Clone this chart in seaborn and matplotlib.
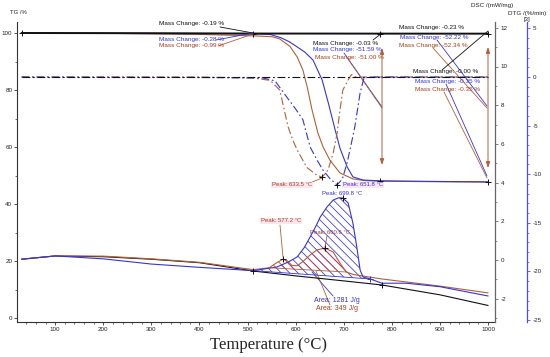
import matplotlib
matplotlib.use("Agg")
import matplotlib.pyplot as plt
import seaborn as sns
from matplotlib.ticker import MultipleLocator

# -------------------------------
# Data
# -------------------------------
step_temps = [30, 512, 776, 1000]

# TG (%)
tg_black_t = [30, 200, 400, 512, 650, 776, 900, 1000]
tg_black = [100, 99.95, 99.87, 99.81, 99.80, 99.78, 99.77, 99.77]

tg_blue_t = [30, 300, 512, 547, 570, 588, 604, 619, 636, 655, 669, 682, 692, 707, 719, 740, 776, 900, 1000]
tg_blue = [100, 99.9, 99.72, 99.5, 98.3, 96.8, 95.0, 93.3, 90.5, 83.5, 74.7, 66.0, 59.6, 53.0, 49.5, 48.4, 48.13, 47.9, 47.78]

tg_brown_t = [30, 200, 400, 512, 551, 567, 588, 603, 615, 624, 634, 646, 657, 671, 692, 719, 744, 776, 900, 1000]
tg_brown = [100, 99.9, 99.5, 99.0, 98.7, 97.9, 95.3, 91.6, 87.0, 81.0, 73.0, 65.0, 60.0, 55.4, 50.9, 48.8, 48.2, 48.0, 47.8, 47.66]

# DTG (%/min)
dtg_black_t = [30, 500, 1000]
dtg_black = [0, 0, 0]

dtg_blue_t = [30, 400, 532, 557, 582, 600, 615, 630, 645, 657, 672, 686, 697, 707, 715, 723, 734, 742, 760, 1000]
dtg_blue = [0, -0.05, -0.1, -0.4, -2.1, -3.3, -4.4, -7.2, -8.6, -9.6, -10.5, -11.1, -10.5, -8.8, -7.0, -5.1, -1.6, -0.1, 0, 0]

dtg_brown_t = [30, 400, 511, 547, 567, 584, 594, 603, 623, 644, 655, 667, 678, 686, 692, 698, 709, 716, 725, 1000]
dtg_brown = [0, 0, -0.1, -0.35, -1.35, -5.1, -6.5, -7.5, -9.3, -10.1, -10.3, -9.6, -7.8, -5.8, -3.4, -1.35, -0.3, 0.25, 0, 0]

# DSC (mW/mg)
dsc_black_t = [30, 100, 200, 300, 400, 512, 600, 700, 779, 900, 1000]
dsc_black = [0.04, 0.21, 0.17, 0.04, -0.14, -0.57, -0.82, -1.08, -1.29, -1.8, -2.35]

dsc_blue_t = [30, 100, 200, 300, 400, 512, 561, 585, 603, 618, 630, 641, 651, 665, 678, 690, 698,
              709, 719, 727, 734, 740, 755, 779, 830, 900, 1000]
dsc_blue = [0.04, 0.21, 0.06, -0.21, -0.38, -0.55, -0.36, -0.1, 0.16, 0.65, 1.19, 1.7, 2.22, 2.74, 3.1, 3.22, 3.2,
            2.95, 1.9, 0.67, -0.52, -0.88, -0.98, -1.2, -1.2, -1.38, -1.86]

dsc_brown_t = [30, 100, 200, 300, 400, 512, 545, 560, 574, 583, 592, 603, 615, 630, 644, 661, 678,
               692, 705, 720, 779, 900, 1000]
dsc_brown = [0.04, 0.21, 0.2, 0.06, -0.12, -0.5, -0.4, -0.15, 0.05, -0.05, -0.28, -0.3, -0.08, 0.26, 0.52, 0.62, 0.41,
             -0.16, -0.62, -0.75, -0.98, -1.35, -1.7]

# integration limits of the DSC peaks
blue_area_lim = (512, 755)
brown_area_lim = (545, 705)

# peak markers
dtg_peak_t = [655, 686]
dtg_peak_v = [-10.3, -11.1]
dsc_peak_brown_t = [574, 661]
dsc_peak_brown_v = [0.05, 0.62]
dsc_peak_blue_t = [698]
dsc_peak_blue_v = [3.2]

BLACK = "#111111"
BLUE = "#3434d8"
BROWN = "#b0603a"
RED = "#d83a3a"
TXT_BROWN = "#a0401c"

# -------------------------------
# Style
# -------------------------------
sns.set_style("ticks")
plt.rcParams["font.family"] = ["Liberation Sans", "DejaVu Sans"]
plt.rcParams["hatch.linewidth"] = 0.55
plt.rcParams["axes.unicode_minus"] = False

W, H = 550, 357
fig = plt.figure(figsize=(W / 100, H / 100), dpi=100)


# reference pixel -> TG axes data
def px(x, y):
    return 600 + (x - 295.7) / 0.481, (318 - y) / 2.85


x0, y_top = px(17, 22)
x1, y_bot = px(495, 322)

ax = fig.add_axes([17 / W, 1 - 322 / H, (495 - 17) / W, 300 / H])
ax_dsc = ax.twinx()
ax_dtg = ax.twinx()


def line(a, t, v, color, ls="-", lw=0.8):
    sns.lineplot(x=t, y=v, ax=a, color=color, linestyle=ls, linewidth=lw,
                 sort=False, estimator=None)


# TG
line(ax, tg_brown_t, tg_brown, BROWN)
line(ax, tg_blue_t, tg_blue, BLUE)
line(ax, tg_black_t, tg_black, BLACK, lw=1.4)

# DTG
dashdot = (0, (7, 2.5, 1.5, 2.5))
line(ax_dtg, dtg_brown_t, dtg_brown, BROWN, ls=dashdot)
line(ax_dtg, dtg_blue_t, dtg_blue, BLUE, ls=dashdot)
line(ax_dtg, dtg_black_t, dtg_black, BLACK, ls=dashdot)

# DSC
line(ax_dsc, dsc_black_t, dsc_black, BLACK)
line(ax_dsc, dsc_brown_t, dsc_brown, BROWN)
line(ax_dsc, dsc_blue_t, dsc_blue, BLUE)

# hatched peak areas (closed along the straight integration baseline)
bt = [t for t in dsc_blue_t if blue_area_lim[0] <= t <= blue_area_lim[1]]
bv = [v for t, v in zip(dsc_blue_t, dsc_blue) if blue_area_lim[0] <= t <= blue_area_lim[1]]
ax_dsc.fill(bt, bv, facecolor="none", edgecolor=BLUE, hatch="\\\\\\\\", linewidth=0)
ax_dsc.plot([bt[0], bt[-1]], [bv[0], bv[-1]], color=BLUE, lw=0.6)

rt = [t for t in dsc_brown_t if brown_area_lim[0] <= t <= brown_area_lim[1]]
rv = [v for t, v in zip(dsc_brown_t, dsc_brown) if brown_area_lim[0] <= t <= brown_area_lim[1]]
ax_dsc.fill(rt, rv, facecolor="none", edgecolor=RED, hatch="\\\\\\\\", linewidth=0)
ax_dsc.plot([rt[0], rt[-1]], [rv[0], rv[-1]], color=BROWN, lw=0.6)

# markers
mk = dict(marker="+", ls="none", ms=5, mew=0.7)
ax.plot(step_temps, [tg_black[tg_black_t.index(t)] for t in [30, 512, 776, 1000]], color=BLACK, **mk)
ax.plot(step_temps[2:], [tg_blue[tg_blue_t.index(t)] for t in step_temps[2:]], color=BLACK, **mk)
ax_dtg.plot(dtg_peak_t, dtg_peak_v, color=BLACK, **mk)
ax_dsc.plot(dsc_peak_brown_t, dsc_peak_brown_v, color=BLACK, **mk)
ax_dsc.plot(dsc_peak_blue_t, dsc_peak_blue_v, color=BLACK, **mk)
ax_dsc.plot([512, 779], [dsc_black[5], dsc_black[8]], color=BLACK, **mk)
ax_dsc.plot([755], [dsc_blue[dsc_blue_t.index(755)]], color=BLUE, **mk)

# -------------------------------
# Axes
# -------------------------------
ax.set_xlim(x0, x1)
ax.set_ylim(y_bot, y_top)
ax_dsc.set_ylim((260 - 322) / 19.35, (260 - 22) / 19.35)
ax_dtg.set_ylim(-(322 - 77) / 9.72, -(22 - 77) / 9.72)

for a in (ax, ax_dsc, ax_dtg):
    a.set_xlabel("")
    a.set_ylabel("")
    a.spines["top"].set_visible(False)
for a in (ax_dsc, ax_dtg):
    a.spines["left"].set_visible(False)
    a.spines["bottom"].set_visible(False)
ax.spines["right"].set_visible(False)
ax_dtg.spines["right"].set_position(("outward", 23))

for s in ("left", "bottom"):
    ax.spines[s].set_linewidth(0.8)
    ax.spines[s].set_color("#333333")
ax_dsc.spines["right"].set_color("#666666")
ax_dsc.spines["right"].set_linewidth(0.9)
ax_dtg.spines["right"].set_color("#4a4aff")
ax_dtg.spines["right"].set_linewidth(0.9)

ax.xaxis.set_minor_locator(MultipleLocator(20))
ax.set_xticks(range(100, 1001, 100))
ax.yaxis.set_minor_locator(MultipleLocator(10))
ax.set_yticks(range(0, 101, 20))
ax_dsc.set_yticks(range(-2, 13, 2))
ax_dsc.yaxis.set_minor_locator(MultipleLocator(1))
ax_dtg.set_yticks(range(-25, 6, 5))
ax_dtg.yaxis.set_minor_locator(MultipleLocator(1))

ax.tick_params(axis="both", which="major", length=2.2, width=0.6, labelsize=4.5, pad=1.2,
               color="#333333", labelcolor="#222222")
ax.tick_params(axis="both", which="minor", length=1.1, width=0.5, color="#333333")
ax.tick_params(axis="y", left=True, right=False)
ax_dsc.tick_params(axis="y", which="major", length=2.2, width=0.6, labelsize=4.5, pad=2,
                   color="#666666", labelcolor="#222222")
ax_dsc.tick_params(axis="y", which="minor", length=1.1, width=0.5, color="#666666")
ax_dtg.tick_params(axis="y", which="major", length=2.2, width=0.6, labelsize=4.5, pad=2,
                   color="#4a4aff", labelcolor="#222222")
ax_dtg.tick_params(axis="y", which="minor", length=1.3, width=0.5, color="#4a4aff")

# -------------------------------
# Annotations
# -------------------------------
FS = 4.6
mass_labels = [
    ("Mass Change: -0.19 %", 159, 24, BLACK),
    ("Mass Change: -0.28 %", 159, 39, BLUE),
    ("Mass Change: -0.99 %", 159, 46, TXT_BROWN),
    ("Mass Change: -0.03 %", 313, 43, BLACK),
    ("Mass Change: -51.59 %", 313, 50, BLUE),
    ("Mass Change: -51.00 %", 315, 57, TXT_BROWN),
    ("Mass Change: -0.23 %", 399, 28, BLACK),
    ("Mass Change: -52.22 %", 400, 38, BLUE),
    ("Mass Change: -52.34 %", 399, 45, TXT_BROWN),
    ("Mass Change: -0.00 %", 413, 72, BLACK),
    ("Mass Change: -0.35 %", 415, 81, BLUE),
    ("Mass Change: -0.35 %", 415, 89, TXT_BROWN),
]
for txt, x, y, c in mass_labels:
    ax.text(*px(x, y), txt, fontsize=FS, color=c, ha="left", va="center", clip_on=False, zorder=6)

leaders = [
    ((220, 27), (253, 33), BLACK), ((216, 40), (253, 33), BLUE), ((218, 46), (253, 34), BROWN),
    ((373, 40), (382, 33), BLACK),
    ((344, 53), (382, 107), BLUE), ((348, 59), (382, 108), BROWN),
    ((437, 40), (487, 106), BLUE), ((433, 48), (487, 108), BROWN),
    ((442, 70), (488, 31), BLACK),
    ((446, 84), (487, 176), BLUE), ((444, 92), (487, 178), BROWN),
    ((310, 183), (322, 178), BROWN), ((280, 225), (283, 257), BROWN), ((327, 236), (325, 247), BROWN),
    ((333, 296), (312, 272), BLUE), ((330, 305), (316, 271), BROWN),
]
for p0, p1, c in leaders:
    a0, b0 = px(*p0)
    a1, b1 = px(*p1)
    ax.plot([a0, a1], [b0, b1], color=c, lw=0.6, clip_on=False, zorder=5)

for xa, ya, yb in [(382, 48, 165), (488, 47, 168)]:
    ax.annotate("", xy=px(xa, yb), xytext=px(xa, ya),
                arrowprops=dict(arrowstyle="<|-|>,head_length=0.35,head_width=0.12",
                                color=BROWN, lw=0.7, shrinkA=0, shrinkB=0), zorder=5)

pink = dict(boxstyle="square,pad=0.15", facecolor="#fbe6ef", edgecolor="none")
peak_labels = [
    ("Peak: 633.5 °C", 272, 185, TXT_BROWN, pink),
    ("Peak: 651.8 °C", 343, 185, BLUE, pink),
    ("Peak: 699.8 °C", 322, 193, BLUE, None),
    ("Peak: 577.2 °C", 261, 221, TXT_BROWN, pink),
    ("Peak: 660.6 °C", 310, 232, TXT_BROWN, None),
]
for txt, x, y, c, bb in peak_labels:
    ax.text(*px(x, y), txt, fontsize=4.3, color=c, ha="left", va="center", bbox=bb, zorder=6)

ax.text(*px(314, 300), "Area: 1281 J/g", fontsize=5, color=BLUE, ha="left", va="center", zorder=6)
ax.text(*px(316, 309), "Area: 349 J/g", fontsize=5, color=TXT_BROWN, ha="left", va="center", zorder=6)

fig.text(18 / W, 1 - 13 / H, "TG /%", fontsize=4.3, ha="center", va="center", color="#222222")
fig.text(492 / W, 1 - 6 / H, "DSC /(mW/mg)", fontsize=4.5, ha="center", va="center", color="#222222")
fig.text(527 / W, 1 - 13 / H, "DTG /(%/min)", fontsize=4.5, ha="center", va="center", color="#222222")
fig.text(527 / W, 1 - 20 / H, "[3]", fontsize=4.3, ha="center", va="center", color="#222222")
fig.text(269 / W, 1 - 345 / H, "Temperature (°C)", fontsize=12, ha="center", va="center",
         family=["Liberation Serif", "DejaVu Serif"])

fig.savefig("out.png", dpi=100)
